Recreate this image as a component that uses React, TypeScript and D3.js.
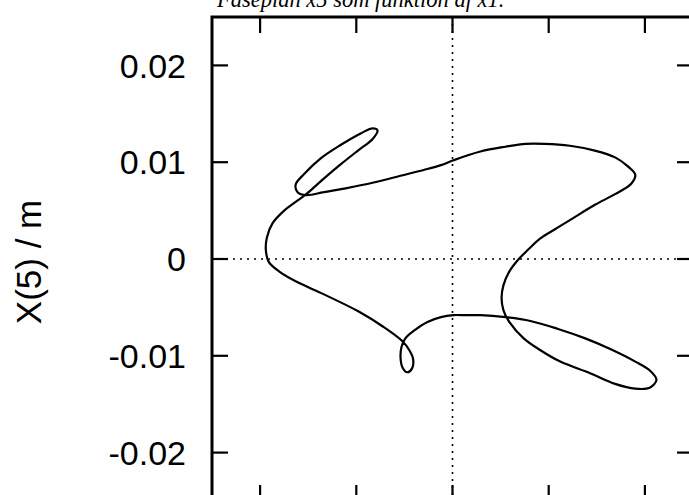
import React from "react";
import * as d3 from "d3";

// Phase-plane trajectory: x5 versus x1 (both in metres), traced as a closed orbit.
const x1Values = [
  -0.0152, -0.0134, -0.0111, -0.0082, -0.0054, -0.003, -0.0012, 0.0001, 0.0029, 0.0055,
  0.0076, 0.0096, 0.0122, 0.0148, 0.0169, 0.0182, 0.019, 0.0186, 0.0169, 0.0148,
  0.0125, 0.0107, 0.0091, 0.0079, 0.0068, 0.0059, 0.0053, 0.0051, 0.0053, 0.0059,
  0.0074, 0.0091, 0.0112, 0.0143, 0.0169, 0.019, 0.0205, 0.0212, 0.0206, 0.019,
  0.0164, 0.0138, 0.0109, 0.0081, 0.0055, 0.0029, 0.0013, 0.0001, -0.0012, -0.0026,
  -0.004, -0.0049, -0.0053, -0.0054, -0.0052, -0.0047, -0.0042, -0.0041, -0.0045, -0.0052,
  -0.0072, -0.0098, -0.0137, -0.0163, -0.018, -0.0191, -0.0194, -0.0193, -0.0187, -0.0175,
  -0.0163, -0.0152, -0.0135, -0.0116, -0.0097, -0.0083, -0.0078, -0.0083, -0.0095, -0.0116,
  -0.0137, -0.0154, -0.0163, -0.0161,
];
const x5Values = [
  0.0066, 0.0069, 0.0073, 0.0079, 0.0086, 0.0092, 0.0097, 0.0102, 0.0111, 0.0116,
  0.0119, 0.0119, 0.0117, 0.0112, 0.0105, 0.0096, 0.0087, 0.0078, 0.0067, 0.0056,
  0.0042, 0.0031, 0.0021, 0.001, -0.0001, -0.0013, -0.0027, -0.004, -0.0053, -0.0065,
  -0.0082, -0.0094, -0.0106, -0.0118, -0.0129, -0.0134, -0.0133, -0.0125, -0.0116, -0.0106,
  -0.0093, -0.0082, -0.0072, -0.0064, -0.006, -0.0058, -0.0058, -0.0058, -0.006, -0.0065,
  -0.0074, -0.0082, -0.0091, -0.0102, -0.0112, -0.0117, -0.0113, -0.0103, -0.0094, -0.0085,
  -0.007, -0.0054, -0.0035, -0.0023, -0.0013, -0.0003, 0.0009, 0.0022, 0.0037, 0.005,
  0.0059, 0.0067, 0.0082, 0.0098, 0.0113, 0.0124, 0.0133, 0.0135, 0.013, 0.0118,
  0.0104, 0.0088, 0.0077, 0.0069,
];

const xTicks = [-0.02, -0.01, 0, 0.01, 0.02];
const yTicks = [0.02, 0.01, 0, -0.01, -0.02];
const yTickLabels = ["0.02", "0.01", "0", "-0.01", "-0.02"];

const title = "Faseplan x5 som funktion af x1.";
const yLabel = "X(5) / m";

const W = 689;
const H = 495;

export default function App() {
  const x = d3.scaleLinear().domain([-0.025, 0.025]).range([212, 693]);
  const y = d3.scaleLinear().domain([-0.025, 0.025]).range([501, 17]);

  const points: [number, number][] = x1Values.map((v, i) => [v, x5Values[i]]);
  const line = d3
    .line<[number, number]>()
    .x((d) => x(d[0]))
    .y((d) => y(d[1]))
    .curve(d3.curveCatmullRomClosed.alpha(0.5));

  const left = x(-0.025);
  const right = x(0.025);
  const top = y(0.025);
  const bottom = y(-0.025);
  const tickLen = 16;
  const sans = "'Liberation Sans', Arial, Helvetica, sans-serif";

  return (
    <svg
      width={W}
      height={H}
      viewBox={`0 0 ${W} ${H}`}
      style={{ position: "absolute", left: 0, top: 0, background: "#fff" }}
    >
      <rect x={0} y={0} width={W} height={H} fill="#fff" />

      <text
        x={217}
        y={7}
        fontFamily="'Liberation Serif', 'DejaVu Serif', serif"
        fontStyle="italic"
        fontSize={22.5}
        fill="#000"
      >
        {title}
      </text>

      {/* zero reference lines */}
      <line x1={left} x2={right} y1={y(0)} y2={y(0)} stroke="#000" strokeWidth={1.6} strokeDasharray="2,5" />
      <line x1={x(0)} x2={x(0)} y1={top} y2={bottom} stroke="#000" strokeWidth={1.6} strokeDasharray="2,5" />

      {/* ticks on all four sides, pointing inward */}
      {xTicks.map((t) => (
        <g key={`xt${t}`}>
          <line x1={x(t)} x2={x(t)} y1={top} y2={top + tickLen} stroke="#000" strokeWidth={2.2} />
          <line x1={x(t)} x2={x(t)} y1={bottom} y2={bottom - tickLen} stroke="#000" strokeWidth={2.2} />
        </g>
      ))}
      {yTicks.map((t, i) => (
        <g key={`yt${t}`}>
          <line x1={left} x2={left + tickLen} y1={y(t)} y2={y(t)} stroke="#000" strokeWidth={2.2} />
          <line x1={right} x2={right - tickLen} y1={y(t)} y2={y(t)} stroke="#000" strokeWidth={2.2} />
          <text
            x={186}
            y={y(t)}
            dy="0.36em"
            textAnchor="end"
            fontFamily={sans}
            fontSize={34}
            fill="#000"
          >
            {yTickLabels[i]}
          </text>
        </g>
      ))}

      {/* plot frame */}
      <rect x={left} y={top} width={right - left} height={bottom - top} fill="none" stroke="#000" strokeWidth={3} />

      <path d={line(points) ?? ""} fill="none" stroke="#000" strokeWidth={2.2} strokeLinejoin="round" />

      <text
        transform={`translate(41, 262) rotate(-90)`}
        textAnchor="middle"
        fontFamily={sans}
        fontSize={35}
        fill="#000"
      >
        {yLabel}
      </text>
    </svg>
  );
}
